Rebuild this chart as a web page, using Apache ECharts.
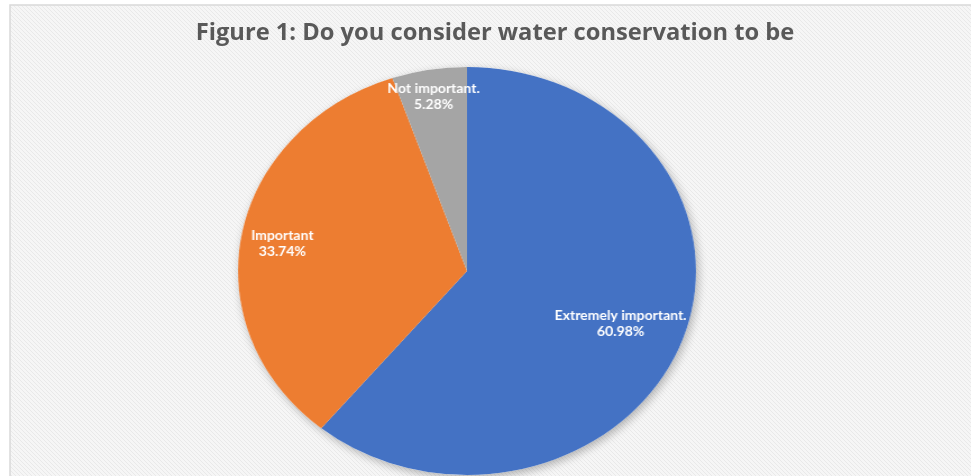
<!DOCTYPE html>
<html>
<head>
<meta charset="utf-8">
<script src="https://cdn.jsdelivr.net/npm/echarts@6/dist/echarts.min.js"></script>
<style>
  html, body { margin: 0; padding: 0; background: #ffffff; }
  #wrap { position: relative; width: 971px; height: 476px; overflow: hidden; }
  #frame, #pie { position: absolute; left: 0; top: 0; width: 971px; height: 476px; }
  /* the pie is drawn as an ellipse: its layer is stretched horizontally about the pie centre */
  #pie { transform-origin: 467px 271px; transform: scaleX(1.1225); }
</style>
</head>
<body>
<div id="wrap">
  <div id="frame"></div>
  <div id="pie"></div>
</div>
<script>
// Survey answers: "Do you consider water conservation to be ..."
const categories = ['Extremely important.', 'Important', 'Not important.'];
const shares = [60.98, 33.74, 5.28];
const titleText = 'Figure 1: Do you consider water conservation to be';

const palette = ['#4472C4', '#ED7D31', '#A5A5A5'];
const titleFont = '"Open Sans", "Noto Sans", sans-serif';
const labelFont = 'Lato, "Open Sans", "Noto Sans", sans-serif';

// fine diagonal hatch used for the chart area fill
function hatchTile() {
  const c = document.createElement('canvas');
  c.width = 4; c.height = 4;
  const g = c.getContext('2d');
  g.fillStyle = '#f6f6f6';
  g.fillRect(0, 0, 4, 4);
  g.strokeStyle = '#e9e9e9';
  g.lineWidth = 1;
  g.beginPath();
  g.moveTo(-1, -1); g.lineTo(5, 5);
  g.moveTo(-1, 3); g.lineTo(1, 5);
  g.moveTo(3, -1); g.lineTo(5, 1);
  g.stroke();
  return c;
}

// frame layer: chart-area panel and title
const frame = echarts.init(document.getElementById('frame'), null, { renderer: 'canvas' });
frame.setOption({
  animation: false,
  backgroundColor: '#ffffff',
  title: {
    text: titleText,
    left: 490,
    top: 16,
    textAlign: 'center',
    textStyle: {
      fontFamily: titleFont,
      fontWeight: 'bold',
      fontSize: 23.7,
      color: '#595959'
    }
  },
  graphic: [{
    type: 'rect',
    silent: true,
    z: -10,
    shape: { x: 10, y: 5, width: 990, height: 500 },
    style: {
      fill: { image: hatchTile(), repeat: 'repeat' },
      stroke: '#d9d9d9',
      lineWidth: 1.5
    }
  }]
});

// pie layer
const center = [467, 271];
const R = 204;
const total = shares.reduce((a, b) => a + b, 0);

// small nudges so each label sits where it reads best inside its slice
const labelNudge = {
  'Extremely important.': [-10, 0],
  'Important': [-11, 1],
  'Not important.': [-4, -20]
};

const pie = echarts.init(document.getElementById('pie'), null, { renderer: 'canvas' });
pie.setOption({
  animation: false,
  backgroundColor: 'transparent',
  series: [
    {
      // soft drop shadow under the whole disc
      type: 'pie',
      silent: true,
      center: center,
      radius: [0, R],
      z: 1,
      label: { show: false },
      labelLine: { show: false },
      itemStyle: {
        color: '#ffffff',
        shadowBlur: 9,
        shadowColor: 'rgba(0,0,0,0.28)',
        shadowOffsetX: 2,
        shadowOffsetY: 3
      },
      data: [{ name: 'all', value: total }]
    },
    {
      type: 'pie',
      center: center,
      radius: [0, R],
      startAngle: 90,
      clockwise: true,
      z: 2,
      silent: true,
      label: { show: false },
      labelLine: { show: false },
      emphasis: { disabled: true },
      itemStyle: { borderWidth: 0 },
      data: categories.map((name, i) => ({
        name: name,
        value: shares[i],
        itemStyle: { color: palette[i] }
      }))
    },
    {
      // label ring: carries the slice labels at three quarters of the radius
      type: 'pie',
      center: center,
      radius: [R / 2, R],
      startAngle: 90,
      clockwise: true,
      z: 3,
      silent: true,
      avoidLabelOverlap: false,
      emphasis: { disabled: true },
      itemStyle: { color: 'rgba(0,0,0,0)' },
      labelLine: { show: false },
      label: {
        show: true,
        position: 'inside',
        color: '#ffffff',
        fontFamily: labelFont,
        fontWeight: 'bold',
        fontSize: 12.5,
        lineHeight: 16.5,
        align: 'center',
        formatter: p => p.name + '\n' + p.value.toFixed(2) + '%'
      },
      data: categories.map((name, i) => ({
        name: name,
        value: shares[i],
        label: { offset: labelNudge[name] }
      }))
    }
  ]
});
</script>
</body>
</html>
